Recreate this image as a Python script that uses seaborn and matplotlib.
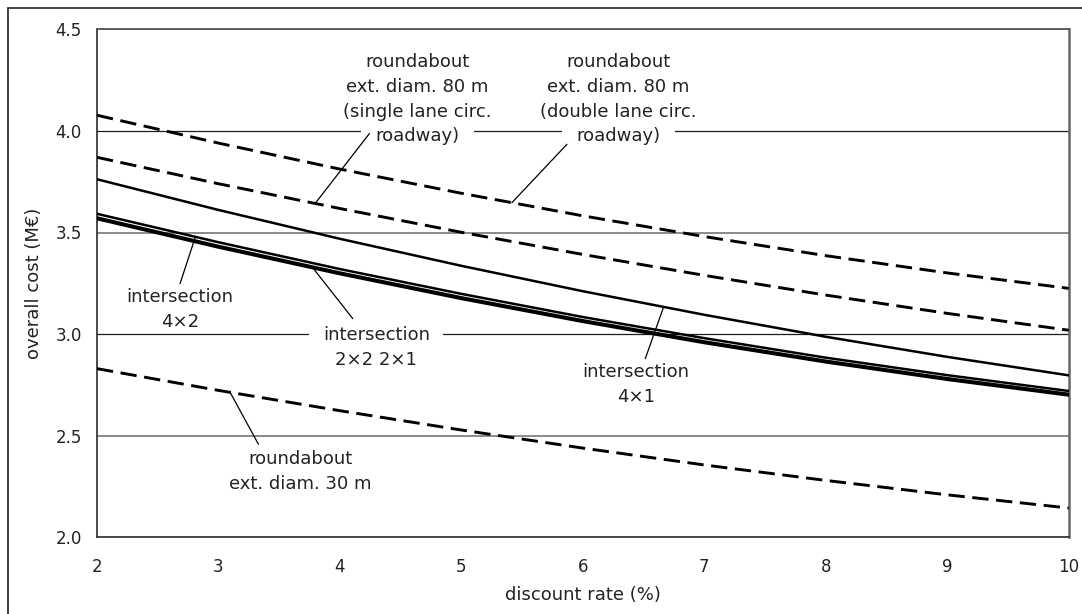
import numpy as np
import pandas as pd
import matplotlib
matplotlib.use("Agg")
import matplotlib.pyplot as plt
import seaborn as sns
from matplotlib.patches import Rectangle

# Overall cost (M€) against discount rate (%)
discount_rate = [2, 3, 4, 5, 6, 7, 8, 9, 10]

rb80_double = [4.077, 3.940, 3.812, 3.693, 3.582, 3.480, 3.386, 3.301, 3.225]
rb80_single = [3.870, 3.740, 3.618, 3.501, 3.392, 3.289, 3.192, 3.102, 3.019]
int_4x1 = [3.762, 3.611, 3.469, 3.336, 3.211, 3.095, 2.987, 2.888, 2.797]
int_4x2 = [3.592, 3.452, 3.320, 3.198, 3.084, 2.980, 2.884, 2.798, 2.720]
int_2x2 = [3.574, 3.434, 3.303, 3.181, 3.068, 2.964, 2.869, 2.783, 2.706]
int_2x1 = [3.566, 3.426, 3.295, 3.173, 3.060, 2.956, 2.861, 2.775, 2.698]
rb30 = [2.830, 2.723, 2.623, 2.528, 2.439, 2.356, 2.280, 2.209, 2.144]

series = {
    "rb80_double": rb80_double,
    "rb80_single": rb80_single,
    "int_4x1": int_4x1,
    "int_4x2": int_4x2,
    "int_2x2": int_2x2,
    "int_2x1": int_2x1,
    "rb30": rb30,
}
dashed = {"rb80_double", "rb80_single", "rb30"}

df = pd.concat(
    [pd.DataFrame({"rate": discount_rate, "cost": v, "series": k}) for k, v in series.items()],
    ignore_index=True,
)

sns.set_theme(style="white")
plt.rcParams["font.family"] = ["DejaVu Sans"]

fig = plt.figure(figsize=(10.82, 6.14), dpi=100)
ax = fig.add_axes([97 / 1082, 1 - 537.3 / 614, (1068.7 - 97) / 1082, (537.3 - 29.3) / 614])

names = list(series.keys())
sns.lineplot(
    data=df, x="rate", y="cost",
    hue="series", style="series", size="series",
    palette={k: "black" for k in names},
    dashes={k: ((5.6, 2.6) if k in dashed else "") for k in names},
    sizes={k: (2.1 if k in dashed else 1.8) for k in names},
    estimator=None, legend=False, ax=ax, zorder=5,
)

ax.set_xlim(2, 10)
ax.set_ylim(2.0, 4.5)
ax.set_xticks(range(2, 11))
ax.set_yticks([2.0, 2.5, 3.0, 3.5, 4.0, 4.5])
ax.set_yticklabels([f"{v:.1f}" for v in [2.0, 2.5, 3.0, 3.5, 4.0, 4.5]])

ax.grid(axis="y", zorder=0.5)
ax.set_axisbelow(True)
for val, gl in zip(ax.get_yticks(), ax.get_ygridlines()):
    if abs(val - round(val)) < 1e-9:
        gl.set_color("#1e1e1e"); gl.set_linewidth(0.9)
    else:
        gl.set_color("#8a8a8a"); gl.set_linewidth(1.4)

for side, sp in ax.spines.items():
    sp.set_visible(True)
    sp.set_color("#3a3a3a")
    sp.set_linewidth(1.3)
ax.spines["right"].set_color("#666666")
ax.spines["right"].set_linewidth(1.8)
ax.spines["top"].set_color("#555555")

ax.tick_params(axis="both", direction="out", length=5, width=1, colors="#3a3a3a",
               labelsize=12, labelcolor="#222222")
ax.tick_params(axis="x", pad=10)
ax.tick_params(axis="y", pad=6)
ax.set_xlabel("discount rate (%)", fontsize=13, color="#222222", labelpad=7)
ax.set_ylabel("overall cost (M€)", fontsize=13, color="#222222", labelpad=9)

LINE_STEP = 17.8  # points between label lines


def label(lines, x, y, boxed=(), pad=0.8):
    for i, line in enumerate(lines):
        kw = {}
        z = 4.5
        if i in boxed:
            kw["bbox"] = dict(boxstyle=f"square,pad={pad}", fc="white", ec="none")
            z = 3
        ax.annotate(line, xy=(x, y), xytext=(0, -i * LINE_STEP), textcoords="offset points",
                    ha="center", va="center", fontsize=13, color="#222222", zorder=z, **kw)


def leader(name, x_on, x_end, y_end):
    y_on = np.interp(x_on, discount_rate, series[name])
    ax.annotate("", xy=(x_on, y_on), xytext=(x_end, y_end),
                arrowprops=dict(arrowstyle="-", lw=0.9, color="black", shrinkA=0, shrinkB=0),
                zorder=4)


label(["roundabout", "ext. diam. 80 m", "(single lane circ.", "roadway)"], 4.636, 4.338, boxed=(3,))
leader("rb80_single", 3.796, 4.243, 3.987)

label(["roundabout", "ext. diam. 80 m", "(double lane circ.", "roadway)"], 6.292, 4.338, boxed=(3,))
leader("rb80_double", 5.416, 5.869, 3.934)

label(["intersection", "4×2"], 2.684, 3.181)
leader("int_4x2", 2.810, 2.684, 3.249)

label(["intersection", "2×2 2×1"], 4.30, 2.995, boxed=(0,), pad=0.75)
leader("int_2x1", 3.78, 4.106, 3.076)

label(["intersection", "4×1"], 6.436, 2.812)
leader("int_4x1", 6.665, 6.514, 2.879)

label(["roundabout", "ext. diam. 30 m"], 3.672, 2.386)
leader("rb30", 3.096, 3.329, 2.458)

# outer frame around the figure
fig.add_artist(Rectangle((8 / 1082, -1.0), 2.0, 1.0 + (1 - 8 / 614), transform=fig.transFigure,
                         fill=False, ec="#333333", lw=1.3, clip_on=False))

fig.savefig("out.png", dpi=100)
